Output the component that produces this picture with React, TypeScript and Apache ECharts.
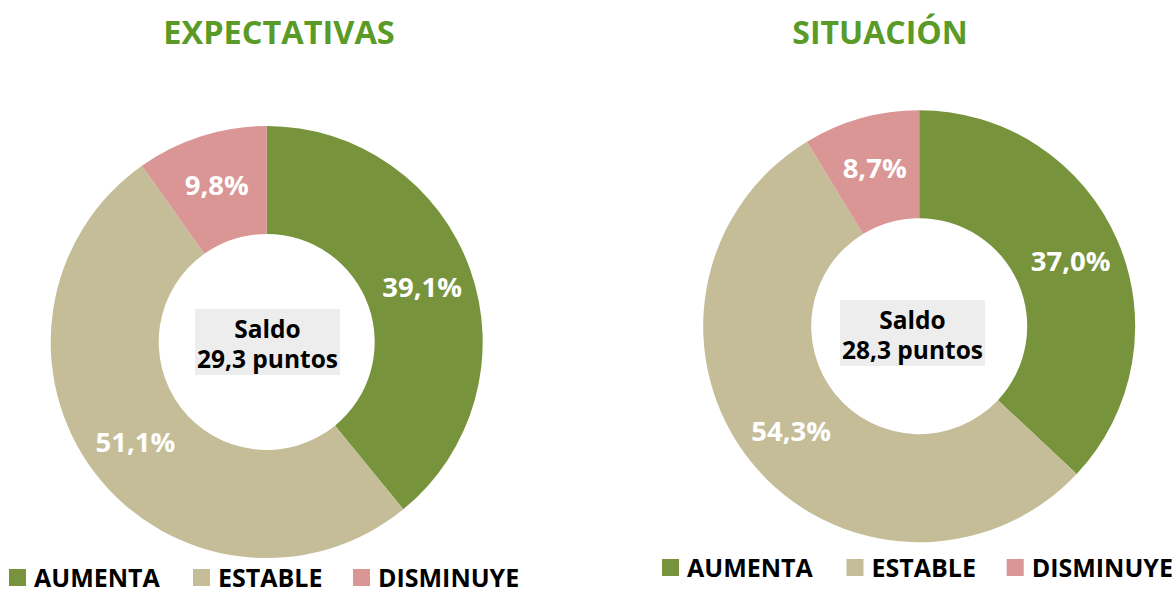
import React, { useEffect, useRef } from "react";
import * as echarts from "echarts";

const categories = ["AUMENTA", "ESTABLE", "DISMINUYE"];
const expectativasValues = [39.1, 51.1, 9.8];
const situacionValues = [37.0, 54.3, 8.7];
const chartTitles = ["EXPECTATIVAS", "SITUACIÓN"];
const saldoValues = ["29,3", "28,3"];

const COLORS = ["#77933C", "#C4BD97", "#D99694"];
const FONT = "'Open Sans', sans-serif";

const fmt = (v: number) => v.toFixed(1).replace(".", ",") + "%";

export default function App() {
  const ref = useRef<HTMLDivElement>(null);
  useEffect(() => {
    document.body.style.margin = "0";
    if (!ref.current) return;
    const chart = echarts.init(ref.current, null, { renderer: "svg" });

    const layout = [
      { cx: 266.7, cy: 342, titleX: 279, titleY: 31, titleSize: 32.5, box: [195, 309, 145, 66], legendY: 569, legendX: [9, 193, 353] },
      { cx: 919.2, cy: 326.2, titleX: 880, titleY: 31, titleSize: 32, box: [840, 300, 145, 66], legendY: 559, legendX: [662, 846.5, 1006.7] },
    ];
    const seriesData = [expectativasValues, situacionValues];

    const series: any[] = layout.map((l, i) => ({
      type: "pie",
      name: chartTitles[i],
      center: [l.cx, l.cy],
      radius: [108, 216],
      startAngle: 90,
      clockwise: true,
      avoidLabelOverlap: false,
      silent: true,
      itemStyle: { borderWidth: 0 },
      label: {
        show: true,
        position: "inside",
        formatter: (p: any) => fmt(p.value),
        color: "#ffffff",
        fontFamily: FONT,
        fontWeight: "bold",
        fontSize: 27.5,
      },
      labelLine: { show: false },
      data: categories.map((c, k) => ({ name: c, value: seriesData[i][k], itemStyle: { color: COLORS[k] } })),
    }));

    const graphics: any[] = [];
    layout.forEach((l, i) => {
      graphics.push({
        type: "text",
        x: l.titleX,
        y: l.titleY,
        style: {
          text: chartTitles[i],
          fill: "#5A9A26",
          font: `bold ${l.titleSize}px ${FONT}`,
          textAlign: "center",
          textVerticalAlign: "middle",
        },
      });
      graphics.push({
        type: "rect",
        shape: { x: l.box[0], y: l.box[1], width: l.box[2], height: l.box[3] },
        style: { fill: "#EDEDED" },
      });
      graphics.push({
        type: "text",
        x: l.box[0] + l.box[2] / 2,
        y: l.box[1] + 19,
        style: {
          text: "Saldo",
          fill: "#000000",
          font: `bold 24.5px ${FONT}`,
          textAlign: "center",
          textVerticalAlign: "middle",
        },
      });
      graphics.push({
        type: "text",
        x: l.box[0] + l.box[2] / 2,
        y: l.box[1] + 49,
        style: {
          text: `${saldoValues[i]} puntos`,
          fill: "#000000",
          font: `bold 24.5px ${FONT}`,
          textAlign: "center",
          textVerticalAlign: "middle",
        },
      });
      // legend
      categories.forEach((c, k) => {
        graphics.push({
          type: "rect",
          shape: { x: l.legendX[k], y: l.legendY, width: 17, height: 17 },
          style: { fill: COLORS[k] },
        });
        graphics.push({
          type: "text",
          x: l.legendX[k] + 25,
          y: l.legendY + 8,
          style: {
            text: c,
            fill: "#000000",
            font: `bold 25px ${FONT}`,
            textAlign: "left",
            textVerticalAlign: "middle",
          },
        });
      });
    });

    chart.setOption({
      animation: false,
      backgroundColor: "#ffffff",
      series,
      graphic: graphics,
    });
    return () => chart.dispose();
  }, []);
  return <div ref={ref} style={{ width: 1173, height: 594 }} />;
}
